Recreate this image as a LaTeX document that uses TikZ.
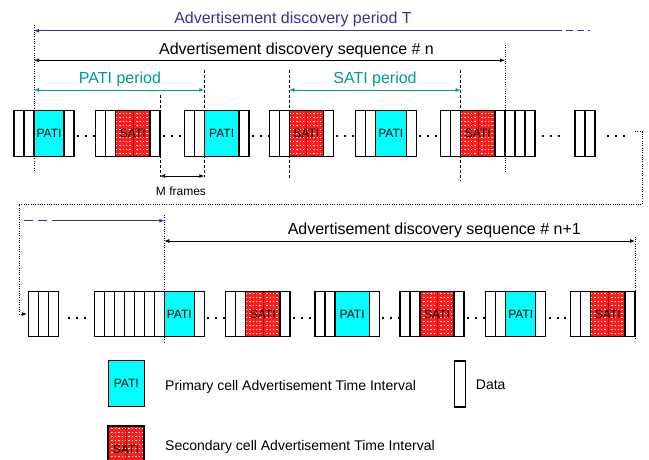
\documentclass[tikz,border=0pt]{standalone}
\usepackage{fontspec}
\setmainfont{Liberation Sans}
\usetikzlibrary{positioning,arrows.meta}

\definecolor{periodblue}{RGB}{51,51,153}
\definecolor{periodteal}{RGB}{0,153,153}
\definecolor{satired}{RGB}{255,30,30}
\definecolor{paticyan}{RGB}{0,255,255}

\tikzset{
  slot/.style={draw=black, line width=1.1pt, minimum height=45.5pt, inner sep=0pt, outer sep=0pt},
  data/.style={slot, minimum width=10pt},
  pati/.style={slot, fill=paticyan, minimum width=30pt, font=\fontsize{12}{14}\selectfont},
  sati/.style={slot, fill=satired, minimum width=34.3pt, font=\fontsize{12}{14}\selectfont,
    path picture={
      \foreach \k in {1,...,12}
        \draw[white, line width=0.75pt, dash pattern=on 1.4pt off 2pt]
          ([yshift=-\k*4pt+1.5pt]path picture bounding box.north west) -- ([yshift=-\k*4pt+1.5pt]path picture bounding box.north east);
      \draw[red!75!black, line width=0.4pt] (path picture bounding box.north) -- (path picture bounding box.south);
    }},
  gapdots/.style={line width=2pt, dash pattern=on 2pt off 5.8pt},
  vdash/.style={black, line width=0.7pt, dash pattern=on 3pt off 2pt},
  vdot/.style={black, line width=0.7pt, dash pattern=on 1pt off 1.3pt},
  bigtext/.style={inner sep=0pt, anchor=base, font=\fontsize{16}{19}\selectfont},
  keytext/.style={inner sep=0pt, anchor=base west, font=\fontsize{14}{17}\selectfont},
  tip/.style={line width=0.9pt},
  >={Latex[length=5pt,width=4pt]}
}

\begin{document}
\begin{tikzpicture}[x=1pt,y=-1pt]
\useasboundingbox (0,0) rectangle (649,460);

% first row of frames
\node[data,anchor=west] (a1) at (14,133.5) {};
\node[data,right=0pt of a1] (a2) {};
\node[pati,right=0pt of a2] (p1) {PATI};
\node[data,right=0pt of p1] (a3) {};

\node[data,anchor=west] (b1) at (95.7,133.5) {};
\node[data,right=0pt of b1] (b2) {};
\node[sati,right=0pt of b2] (s1) {SATI};
\node[data,right=0pt of s1] (b3) {};

\node[data,anchor=west] (c1) at (184.3,133.5) {};
\node[data,right=0pt of c1] (c2) {};
\node[pati,minimum width=34.7pt,right=0pt of c2] (p2) {PATI};
\node[data,right=0pt of p2] (c3) {};

\node[data,anchor=west] (d1) at (269.3,133.5) {};
\node[data,right=0pt of d1] (d2) {};
\node[sati,minimum width=34pt,right=0pt of d2] (s2) {SATI};
\node[data,right=0pt of s2] (d3) {};

\node[data,anchor=west] (e1) at (355.3,133.5) {};
\node[data,right=0pt of e1] (e2) {};
\node[pati,minimum width=31pt,right=0pt of e2] (p3) {PATI};
\node[data,right=0pt of p3] (e3) {};

\node[data,anchor=west] (f1) at (440.7,133.5) {};
\node[data,right=0pt of f1] (f2) {};
\node[sati,right=0pt of f2] (s3) {SATI};
\node[data,right=0pt of s3] (f3) {};
\node[data,right=0pt of f3] (f4) {};
\node[data,right=0pt of f4] (f5) {};
\node[data,right=0pt of f5] (f6) {};

\node[data,anchor=west] (g1) at (575,133.5) {};
\node[data,right=0pt of g1] (g2) {};

\draw[gapdots] ([xshift=3pt,yshift=-3pt]a3.east) -- ([yshift=-3pt]b1.west);
\draw[gapdots] ([xshift=3pt,yshift=-3pt]b3.east) -- ([yshift=-3pt]c1.west);
\draw[gapdots] ([xshift=3pt,yshift=-3pt]c3.east) -- ([yshift=-3pt]d1.west);
\draw[gapdots] ([xshift=3pt,yshift=-3pt]d3.east) -- ([yshift=-3pt]e1.west);
\draw[gapdots] ([xshift=3pt,yshift=-3pt]e3.east) -- ([yshift=-3pt]f1.west);
\draw[gapdots] ([xshift=7pt,yshift=-3pt]f6.east) -- ++(18,0);
\draw[gapdots] ([xshift=12pt,yshift=-3pt]g2.east) -- ++(18,0);

% period marks, first row
\draw[vdot] (p1.west |- 0,25) -- (p1.west |- 0,172);
\draw[vdash] (b3.east |- 0,95) -- (b3.east |- 0,177);
\draw[vdash] (p2.west |- 0,70) -- (p2.west |- 0,177);
\draw[vdash] (s2.west |- 0,70) -- (s2.west |- 0,180);
\draw[vdash] (s3.west |- 0,70) -- (s3.west |- 0,181);
\draw[vdot] (f3.east |- 0,45) -- (f3.east |- 0,172);

\coordinate (tend) at (555,30.7);
\draw[periodblue, tip, <-] (p1.west |- tend) -- (tend);
\draw[periodblue, tip, dash pattern=on 7pt off 4pt] (tend) -- ++(35,0);
\node[bigtext, text=periodblue] (lblT) at (293,24) {Advertisement discovery period T};

\draw[tip, <->] (p1.west |- 0,60.3) -- (f3.east |- 0,60.3);
\node[bigtext] (lbln) at (296.5,54.3) {Advertisement discovery sequence \# n};

\draw[periodteal, tip, <->] (p1.west |- 0,90) -- (p2.west |- 0,90);
\node[bigtext, text=periodteal] (lblpati) at (120,83.3) {PATI period};
\draw[periodteal, tip, <->] (s2.west |- 0,90) -- (s3.west |- 0,90);
\node[bigtext, text=periodteal] (lblsati) at (375,83.3) {SATI period};

\draw[tip, <->] (b3.east |- 0,176) -- (p2.west |- 0,176);
\node[bigtext, font=\fontsize{12}{14}\selectfont] (lblm) at (181,195) {M frames};

% second row of frames
\node[data,anchor=west] (h1) at (28.3,314) {};
\node[data,right=0pt of h1] (h2) {};
\node[data,right=0pt of h2] (h3) {};

\foreach \i in {1,...,7}
  \node[data,anchor=west] (i\i) at (94.3+10*\i-10,314) {};
\node[pati,right=0pt of i7] (p4) {PATI};
\node[data,right=0pt of p4] (i8) {};

\node[data,anchor=west] (j1) at (225.7,314) {};
\node[data,right=0pt of j1] (j2) {};
\node[sati,right=0pt of j2] (s4) {SATI};
\node[data,right=0pt of s4] (j3) {};

\node[data,anchor=west] (k1) at (315,314) {};
\node[data,right=0pt of k1] (k2) {};
\node[pati,minimum width=34.3pt,right=0pt of k2] (p5) {PATI};
\node[data,right=0pt of p5] (k3) {};

\node[data,anchor=west] (l1) at (400,314) {};
\node[data,right=0pt of l1] (l2) {};
\node[sati,minimum width=34pt,right=0pt of l2] (s5) {SATI};
\node[data,right=0pt of s5] (l3) {};

\node[data,anchor=west] (m1) at (485.7,314) {};
\node[data,right=0pt of m1] (m2) {};
\node[pati,right=0pt of m2] (p6) {PATI};
\node[data,right=0pt of p6] (m3) {};

\node[data,anchor=west] (n1) at (570.7,314) {};
\node[data,right=0pt of n1] (n2) {};
\node[sati,right=0pt of n2] (s6) {SATI};
\node[data,right=0pt of s6] (n3) {};

\draw[gapdots] ([xshift=10pt,yshift=-4pt]h3.east) -- ++(18,0);
\draw[gapdots] ([xshift=3pt,yshift=-4pt]i8.east) -- ([yshift=-4pt]j1.west);
\draw[gapdots] ([xshift=3pt,yshift=-4pt]j3.east) -- ([yshift=-4pt]k1.west);
\draw[gapdots] ([xshift=3pt,yshift=-4pt]k3.east) -- ([yshift=-4pt]l1.west);
\draw[gapdots] ([xshift=3pt,yshift=-4pt]l3.east) -- ([yshift=-4pt]m1.west);
\draw[gapdots] ([xshift=3pt,yshift=-4pt]m3.east) -- ([yshift=-4pt]n1.west);

% wrap from first row to second row
\coordinate (wrap) at (635,131.7);
\draw[vdot, ->] (wrap) -- ++(7,0) |- (19,204.3) |- ([xshift=-1.5pt]h1.west);

% period marks, second row
\draw[vdot] (p4.west |- 0,215) -- (p4.west |- 0,341.7);
\draw[vdot] (n3.east |- 0,236.7) -- (n3.east |- 0,340);

\coordinate (tcont) at (52,220.7);
\draw[periodblue, tip, dash pattern=on 9pt off 5pt] (24,220.7) -- (tcont);
\draw[periodblue, tip, ->] (tcont) -- (p4.west |- tcont);

\draw[tip, <->] (p4.west |- 0,241) -- (n3.east |- 0,241);
\node[bigtext] (lbln1) at (434.3,234.3) {Advertisement discovery sequence \# n+1};

% legend
\node[pati, minimum width=36pt, minimum height=46pt] (keyp) at (126.3,383.7) {PATI};
\node[keytext] (keyptext) at (165,390) {Primary cell Advertisement Time Interval};
\node[data, minimum width=10.7pt, minimum height=46pt] (keyd) at (459.7,384) {};
\node[keytext] (keydtext) at (475.7,389.5) {Data};
\node[sati, minimum width=36pt, minimum height=46pt] (keys) at (126,449) {SATI};
\node[keytext] (keystext) at (165,450.7) {Secondary cell Advertisement Time Interval};
\end{tikzpicture}
\end{document}
